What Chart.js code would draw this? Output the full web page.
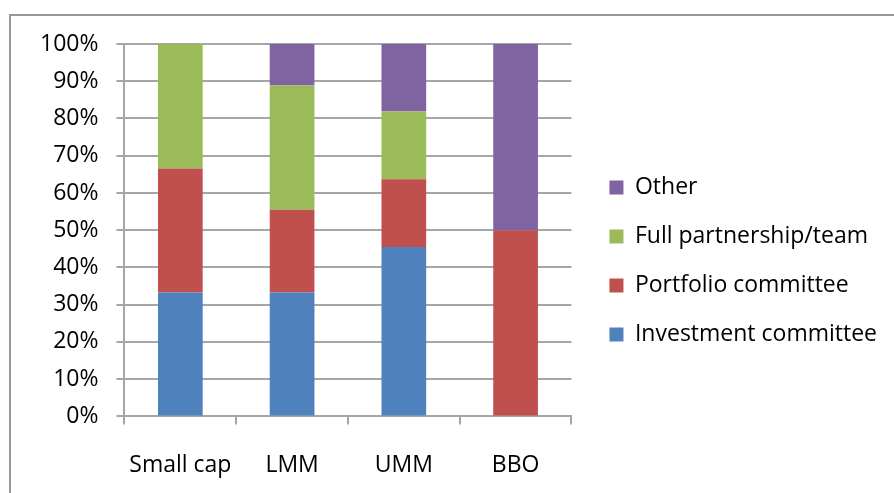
<!DOCTYPE html>
<html>
<head>
<meta charset="utf-8">
<script src="https://cdn.jsdelivr.net/npm/chart.js@4"></script>
<style>
  html, body { margin: 0; padding: 0; background: #fff; overflow: hidden; }
  #frame {
    position: absolute; left: 9px; top: 14px; width: 1000px; height: 600px;
    border-left: 2px solid #9a9a9a; border-top: 2px solid #9a9a9a;
  }
  #chart { position: absolute; left: 0; top: 0; }
</style>
</head>
<body>
<div id="frame"></div>
<canvas id="chart" width="894" height="493"></canvas>
<script>
const categories = ['Small cap', 'LMM', 'UMM', 'BBO'];

// share of firms per decision body, in percent
const investmentCommittee = [33.3, 33.3, 45.5, 0];
const portfolioCommittee = [33.3, 22.2, 18.2, 50];
const fullPartnership = [33.4, 33.4, 18.2, 0];
const other = [0, 11.1, 18.1, 50];

const yTicks = [0, 10, 20, 30, 40, 50, 60, 70, 80, 90, 100];

const gridGray = '#a6a6a6';
const font = { family: '"Open Sans", sans-serif', size: 23 };

// move the legend block a little right and up from where the layout puts it
const legendNudge = {
  id: 'legendNudge',
  afterLayout(chart) {
    const lg = chart.legend;
    lg.left += 12;
    lg.right += 12;
    lg.top -= 14;
    lg.bottom -= 14;
  },
};

const data = {
  labels: categories,
  datasets: [
    { label: 'Investment committee', data: investmentCommittee, backgroundColor: '#4F81BD' },
    { label: 'Portfolio committee', data: portfolioCommittee, backgroundColor: '#C0504D' },
    { label: 'Full partnership/team', data: fullPartnership, backgroundColor: '#9BBB59' },
    { label: 'Other', data: other, backgroundColor: '#8064A2' },
  ],
};

const options = {
  responsive: false,
  animation: false,
  datasets: {
    bar: { categoryPercentage: 1, barPercentage: 0.4 },
  },
  layout: {
    padding: { left: 22, top: 44, right: 19, bottom: -13 },
  },
  scales: {
    x: {
      stacked: true,
      border: { color: gridGray, width: 2 },
      grid: { drawOnChartArea: false, tickLength: 8, color: gridGray, lineWidth: 2 },
      ticks: { color: '#000', font: font, padding: 27 },
    },
    y: {
      stacked: true,
      min: 0,
      max: 100,
      afterBuildTicks: axis => {
        axis.ticks = yTicks.map(v => ({ value: v }));
      },
      border: { color: gridGray, width: 2 },
      grid: { tickLength: 8, color: gridGray, lineWidth: 2 },
      ticks: {
        color: '#000',
        font: font,
        padding: 18,
        callback: value => value + '%',
      },
    },
  },
  plugins: {
    title: { display: false },
    tooltip: { enabled: false },
    legend: {
      position: 'right',
      reverse: true,
      maxWidth: 340,
      labels: {
        color: '#000',
        font: font,
        boxWidth: 14,
        boxHeight: 14,
        padding: 26,
      },
    },
  },
};

const ctx = document.getElementById('chart').getContext('2d');
new Chart(ctx, { type: 'bar', data: data, options: options, plugins: [legendNudge] });
</script>
</body>
</html>
